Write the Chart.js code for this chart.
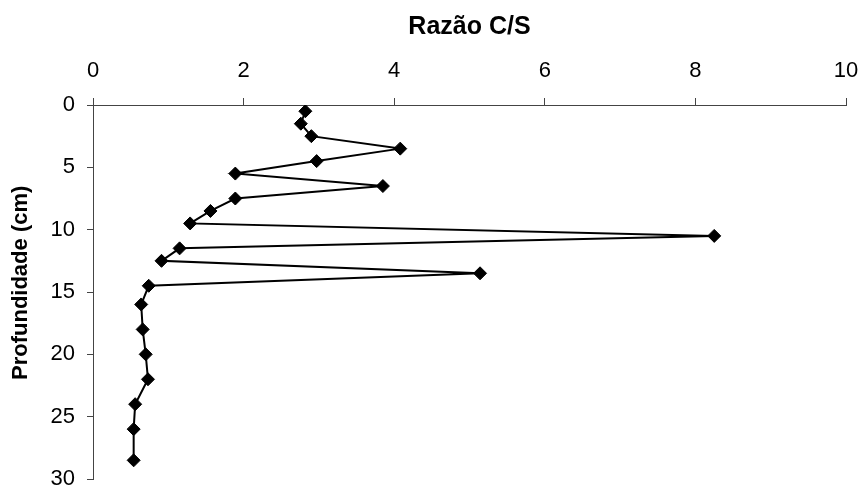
<!DOCTYPE html>
<html>
<head>
<meta charset="utf-8">
<script src="https://cdn.jsdelivr.net/npm/chart.js@4"></script>
<style>
    html, body { margin: 0; padding: 0; background: #fff; }
    canvas { display: block; }
</style>
</head>
<body>
<canvas id="chart" width="863" height="487"></canvas>
<script>
// Depth profile data (cm) and C/S ratio
const depths = [0.5, 1.5, 2.5, 3.5, 4.5, 5.5, 6.5, 7.5, 8.5, 9.5, 10.5, 11.5, 12.5, 13.5, 14.5, 16, 18, 20, 22, 24, 26, 28.5];
const ratios = [2.82, 2.76, 2.90, 4.08, 2.97, 1.89, 3.85, 1.89, 1.56, 1.29, 8.25, 1.15, 0.91, 5.14, 0.74, 0.64, 0.66, 0.70, 0.73, 0.56, 0.54, 0.54];
const xTitle = 'Razão C/S';
// leading spaces nudge the rotated title up a little, like the original
const yTitle = '   Profundidade (cm)';

const axisColor = '#444';
const fontFamily = '"Liberation Sans", Arial, sans-serif';

// keep the plot area exactly where we want it (no auto padding for labels)
function noPadding(scale) {
    scale.paddingTop = 0;
    scale.paddingBottom = 0;
    scale.paddingLeft = 0;
    scale.paddingRight = 0;
}

const ctx = document.getElementById('chart').getContext('2d');
new Chart(ctx, {
    type: 'scatter',
    data: {
        datasets: [{
            data: depths.map((d, i) => ({ x: ratios[i], y: d })),
            showLine: true,
            borderColor: '#000',
            borderWidth: 2,
            backgroundColor: '#000',
            pointStyle: 'rectRot',
            pointRadius: 6.5,
            pointBorderWidth: 1,
            pointBackgroundColor: '#000',
            pointBorderColor: '#000'
        }]
    },
    options: {
        responsive: false,
        animation: false,
        layout: {
            padding: { top: 0, left: 0, right: 17, bottom: 8 }
        },
        plugins: {
            legend: { display: false },
            tooltip: { enabled: false }
        },
        scales: {
            x: {
                type: 'linear',
                position: 'top',
                min: 0,
                max: 10,
                ticks: {
                    stepSize: 2,
                    color: '#000',
                    padding: 14,
                    font: { family: fontFamily, size: 22 }
                },
                grid: {
                    drawOnChartArea: false,
                    drawTicks: true,
                    tickLength: 7,
                    color: axisColor
                },
                border: { display: true, color: axisColor, width: 1 },
                title: {
                    display: true,
                    text: xTitle,
                    color: '#000',
                    padding: { top: 12, bottom: 0 },
                    font: { family: fontFamily, size: 25, weight: 'bold' }
                },
                afterFit: scale => {
                    scale.height = 105;
                    noPadding(scale);
                }
            },
            y: {
                type: 'linear',
                reverse: true,
                min: 0,
                max: 30,
                ticks: {
                    stepSize: 5,
                    color: '#000',
                    padding: 12,
                    font: { family: fontFamily, size: 22 }
                },
                grid: {
                    drawOnChartArea: false,
                    drawTicks: true,
                    tickLength: 6,
                    color: axisColor
                },
                border: { display: true, color: axisColor, width: 1 },
                title: {
                    display: true,
                    text: yTitle,
                    color: '#000',
                    padding: { top: 8, bottom: 0 },
                    font: { family: fontFamily, size: 22, weight: 'bold' }
                },
                afterFit: scale => {
                    scale.width = 93;
                    noPadding(scale);
                }
            }
        }
    }
});
</script>
</body>
</html>
